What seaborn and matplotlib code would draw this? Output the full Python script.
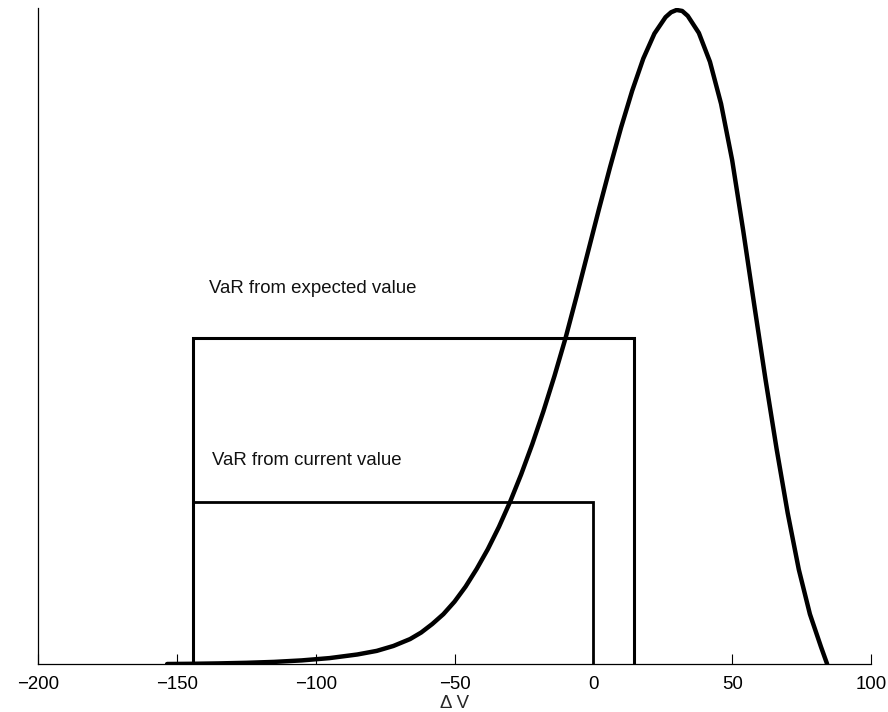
import matplotlib
matplotlib.use("Agg")
import matplotlib.pyplot as plt
import seaborn as sns
import pandas as pd

# Distribution of the value change
dv = [-153.5, -145.0, -135.0, -125.0, -115.0, -105.0, -95.0, -85.0, -78.0, -72.0,
      -66.0, -62.0, -58.0, -54.0, -50.0, -46.0, -42.0, -38.0, -34.0, -30.0,
      -26.0, -22.0, -18.0, -14.0, -10.0, -6.0, -2.0, 2.0, 6.0, 10.0, 14.0, 18.0,
      22.0, 26.0, 28.0, 30.0, 32.0, 34.0, 38.0, 42.0, 46.0, 50.0, 54.0, 58.0, 62.0, 66.0,
      70.0, 74.0, 78.0, 82.0, 84.2]
density = [0.0, 0.0003, 0.0009, 0.0018, 0.0032, 0.0055, 0.009, 0.0145, 0.020, 0.0275,
           0.038, 0.048, 0.061, 0.076, 0.095, 0.118, 0.145, 0.175, 0.209, 0.247,
           0.289, 0.335, 0.385, 0.439, 0.497, 0.561, 0.627, 0.693, 0.757, 0.818, 0.874, 0.923,
           0.961, 0.986, 0.9935, 0.997, 0.9955, 0.988, 0.962, 0.918, 0.854, 0.768, 0.660, 0.546,
           0.434, 0.328, 0.230, 0.144, 0.076, 0.026, 0.0]

# VaR brackets
var_left = -144.3
expected_value = 14.8
current_value = 0.0
expected_level = 0.4965
current_level = 0.2477

labels = ["VaR from expected value", "VaR from current value"]
label_x = [-138.3, -137.4]
label_y = [0.573, 0.310]

xticks = [-200, -150, -100, -50, 0, 50, 100]

sns.set_style("ticks")
plt.rcParams["font.family"] = ["Liberation Sans", "DejaVu Sans"]

fig = plt.figure(figsize=(8.88, 7.12), dpi=100)
ax = fig.add_axes([38 / 888, (712 - 664) / 712, (871 - 38) / 888, (664 - 8) / 712])

df = pd.DataFrame({"dv": dv, "density": density})
sns.lineplot(data=df, x="dv", y="density", sort=False, color="black",
             linewidth=3.2, ax=ax, solid_joinstyle="round")

# expected-value bracket
ax.plot([var_left, var_left, expected_value, expected_value],
        [0, expected_level, expected_level, 0], color="black", linewidth=2.2,
        solid_joinstyle="miter")
# current-value bracket
ax.plot([var_left, current_value, current_value],
        [current_level, current_level, 0], color="black", linewidth=2.0,
        solid_joinstyle="miter")

for t, x, y in zip(labels, label_x, label_y):
    ax.text(x, y, t, fontsize=13.4, va="center", ha="left", color="#111111")

ax.set_xlim(-200, 100)
ax.set_ylim(0, 1)
ax.set_xticks(xticks)
ax.set_xticklabels([f"\u2212{abs(v)}" if v < 0 else str(v) for v in xticks])
ax.set_yticks([])
ax.tick_params(axis="x", direction="in", length=7, width=0.8, labelsize=13.4,
               pad=8.5, colors="black")
ax.set_xlabel("\u0394 V", fontsize=13.4, labelpad=1.5)
ax.set_ylabel("")
for s in ["top", "right"]:
    ax.spines[s].set_visible(False)
for s in ["left", "bottom"]:
    ax.spines[s].set_linewidth(0.9)
    ax.spines[s].set_color("black")
    ax.spines[s].set_zorder(0)

fig.savefig("out.png", dpi=100)
